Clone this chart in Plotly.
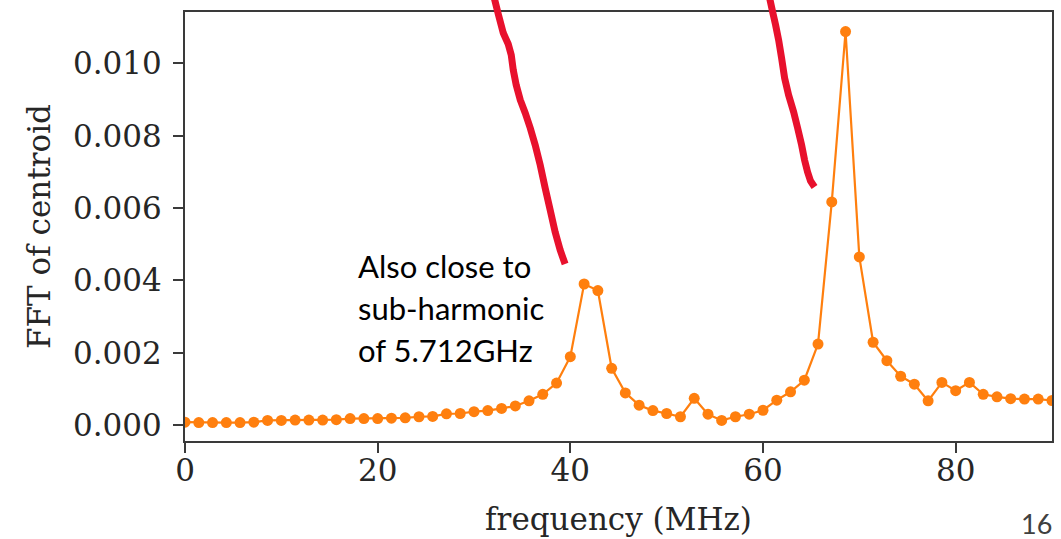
import plotly.graph_objects as go

# Frequency bins (MHz) and FFT amplitude of the beam centroid
frequency_mhz = [
    0.00, 1.43, 2.86, 4.29, 5.71, 7.14, 8.57, 10.00, 11.43, 12.86,
    14.29, 15.71, 17.14, 18.57, 20.00, 21.43, 22.86, 24.29, 25.71, 27.14,
    28.57, 30.00, 31.43, 32.86, 34.29, 35.71, 37.14, 38.57, 40.00, 41.43,
    42.86, 44.29, 45.71, 47.14, 48.57, 50.00, 51.43, 52.86, 54.29, 55.71,
    57.14, 58.57, 60.00, 61.43, 62.86, 64.29, 65.71, 67.14, 68.57, 70.00,
    71.43, 72.86, 74.29, 75.71, 77.14, 78.57, 80.00, 81.43, 82.86, 84.29,
    85.71, 87.14, 88.57, 90.00,
]
fft_centroid = [
    0.00008, 0.00007, 0.00007, 0.00007, 0.00007, 0.00008, 0.00013, 0.00013, 0.00014, 0.00014,
    0.00014, 0.00015, 0.00018, 0.00018, 0.00018, 0.00019, 0.00020, 0.00023, 0.00024, 0.00031,
    0.00032, 0.00037, 0.00040, 0.00046, 0.00053, 0.00067, 0.00085, 0.00116, 0.00189, 0.00390,
    0.00372, 0.00157, 0.00089, 0.00055, 0.00040, 0.00032, 0.00023, 0.00074, 0.00030, 0.00013,
    0.00023, 0.00030, 0.00041, 0.00069, 0.00092, 0.00124, 0.00224, 0.00617, 0.01088, 0.00465,
    0.00229, 0.00178, 0.00135, 0.00113, 0.00067, 0.00118, 0.00095, 0.00118, 0.00085, 0.00078,
    0.00073, 0.00072, 0.00072, 0.00068,
]

x_ticks = [0, 20, 40, 60, 80]
y_ticks = [0.000, 0.002, 0.004, 0.006, 0.008, 0.010]
y_tick_labels = ["0.000", "0.002", "0.004", "0.006", "0.008", "0.010"]

note_lines = ["Also close to", "sub-harmonic", "of 5.712GHz"]

W, H = 1061, 539
L, R, T, B = 185, 7, 12, 98
PW, PH = W - L - R, H - T - B

SERIF = "DejaVu Serif"
ORANGE = "#ff7f0e"
SPINE = "#3a3a3a"
TEXT = "#262626"


def to_paper(px, py):
    return (px - L) / PW, (H - B - py) / PH


def stroke_path(points):
    pts = [to_paper(x, y) for x, y in points]
    return "M" + " L".join(f"{x:.4f},{y:.4f}" for x, y in pts)


# Hand-drawn pointer strokes (screen pixels)
stroke_a = [(495, -2), (499, 14), (504, 33), (509, 44), (512, 55), (514, 70), (517, 85),
            (521, 100), (526, 113), (531, 128), (536, 145), (541, 165), (546, 188),
            (551, 210), (556, 232), (561, 250), (566, 264)]
stroke_b = [(771, -2), (774, 12), (777, 25), (780, 40), (783, 58), (786, 78), (790, 95),
            (795, 112), (799, 128), (803, 145), (806, 160), (809, 172), (812, 181), (816, 187)]

fig = go.Figure()
fig.add_trace(go.Scatter(
    x=frequency_mhz, y=fft_centroid, mode="lines+markers",
    line=dict(color=ORANGE, width=2.2),
    marker=dict(color=ORANGE, size=11),
    showlegend=False, hoverinfo="skip",
))

axis_common = dict(
    showline=True, linecolor=SPINE, linewidth=2, mirror=True,
    ticks="outside", ticklen=10, tickwidth=2, tickcolor=SPINE,
    showgrid=False, zeroline=False,
    tickfont=dict(family=SERIF, size=31, color=TEXT),
    ticklabelposition="outside",
)

fig.update_layout(
    width=W, height=H,
    margin=dict(l=L, r=R, t=T, b=B, pad=0),
    paper_bgcolor="white", plot_bgcolor="white",
    xaxis=dict(
        range=[0, 90], tickvals=x_ticks, ticktext=[str(v) for v in x_ticks],
        title=dict(text="frequency (MHz)", font=dict(family=SERIF, size=31, color=TEXT), standoff=21),
        ticklabelstandoff=-9,
        **axis_common,
    ),
    yaxis=dict(
        range=[-0.00044, 0.01142], tickvals=y_ticks, ticktext=y_tick_labels,
        title=dict(text="FFT of centroid", font=dict(family=SERIF, size=31, color=TEXT), standoff=13),
        ticklabelstandoff=5,
        **axis_common,
    ),
    shapes=[
        dict(type="path", xref="paper", yref="paper", path=stroke_path(stroke_a),
             line=dict(color="#e8112d", width=7)),
        dict(type="path", xref="paper", yref="paper", path=stroke_path(stroke_b),
             line=dict(color="#e8112d", width=7)),
    ],
)

# Multi-line note placed line by line
for i, line in enumerate(note_lines):
    px, py = to_paper(356, 266 + 42 * i)
    fig.add_annotation(
        x=px, y=py, xref="paper", yref="paper", text=line, showarrow=False,
        xanchor="left", yanchor="middle",
        font=dict(family="Lato", size=31, color="black"),
    )

# Slide number
px, py = to_paper(1055, 523)
fig.add_annotation(
    x=px, y=py, xref="paper", yref="paper", text="16", showarrow=False,
    xanchor="right", yanchor="middle", borderpad=0,
    font=dict(family="Lato", size=27, color="#404040"),
)

fig.write_html("out.html")
